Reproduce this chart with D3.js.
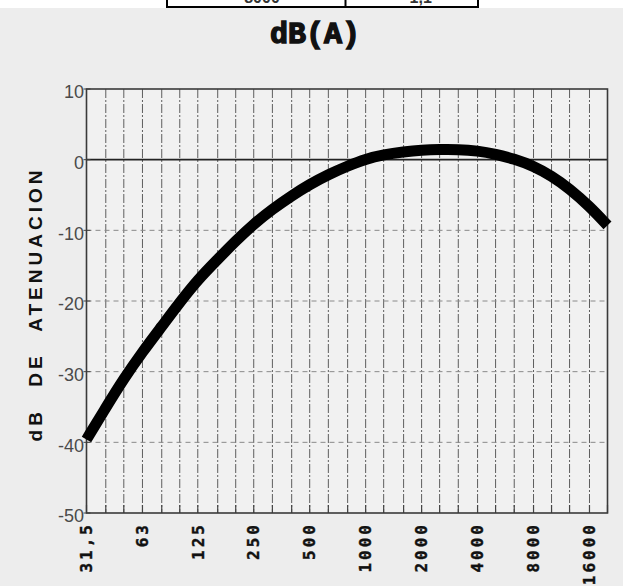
<!DOCTYPE html>
<html>
<head>
<meta charset="utf-8">
<script src="https://cdn.jsdelivr.net/npm/d3@7"></script>
<style>
  html, body { margin: 0; padding: 0; background: #ffffff; }
  svg { display: block; }
</style>
</head>
<body>
<svg id="chart" width="623" height="586"></svg>
<script>
// ---- data ----
const freqs = [31.5, 40, 50, 63, 80, 100, 125, 160, 200, 250, 315, 400, 500, 630, 800,
               1000, 1250, 1600, 2000, 2500, 3150, 4000, 5000, 6300, 8000, 10000, 12500, 16000, 20000];
const attenuation = [-39.6, -35.1, -31.0, -27.2, -23.6, -20.2, -17.0, -14.1, -11.5, -9.1, -7.0, -5.1, -3.5, -2.1, -0.9,
                     0.1, 0.7, 1.1, 1.35, 1.45, 1.45, 1.25, 0.8, 0.1, -0.9, -2.3, -4.1, -6.6, -9.3];
const octaveTicks = [31.5, 63, 125, 250, 500, 1000, 2000, 4000, 8000, 16000];
const octaveLabels = ["31,5", "63", "125", "250", "500", "1000", "2000", "4000", "8000", "16000"];
const yTicks = [10, 0, -10, -20, -30, -40, -50];
const yTickLabels = ["10", "0", "-10", "-20", "-30", "-40", "-50"];
const titleText = "dB(A)";
const yTitle = "dB DE ATENUACION";
const tableFragment = ["8000", "-1,1"];

(function () {
// ---- layout ----
const svg = d3.select("#chart");
const pL = 86.5, pR = 607.5, pT = 89, pB = 513;

const x = d3.scaleLog().domain([31.5, 20000]).range([pL, pR]);
const y = d3.scaleLinear().domain([-50, 10]).range([pB, pT]);

// background (scanned paper look)
svg.append("rect").attr("x", 0).attr("y", 0).attr("width", 623).attr("height", 586).attr("fill", "#ededed");
svg.append("rect").attr("x", 0).attr("y", 0).attr("width", 623).attr("height", 8).attr("fill", "#ffffff");

// top table fragment
const tbl = svg.append("g");
tbl.append("rect").attr("x", 167).attr("y", -4).attr("width", 311).attr("height", 11)
  .attr("fill", "#ffffff").attr("stroke", "#000").attr("stroke-width", 2);
tbl.append("line").attr("x1", 345.5).attr("x2", 345.5).attr("y1", -4).attr("y2", 7)
  .attr("stroke", "#000").attr("stroke-width", 2);
tbl.append("text").attr("x", 262).attr("y", 2.5).attr("text-anchor", "middle")
  .attr("font-family", "Liberation Sans, Arial, sans-serif").attr("font-weight", "bold")
  .attr("font-size", 16).attr("fill", "#333").text(tableFragment[0]);
tbl.append("text").attr("x", 418).attr("y", 2.5).attr("text-anchor", "middle")
  .attr("font-family", "Liberation Sans, Arial, sans-serif").attr("font-weight", "bold")
  .attr("font-size", 16).attr("fill", "#333").text(tableFragment[1]);

// title
svg.append("text").attr("x", 315).attr("y", 43).attr("text-anchor", "middle")
  .attr("font-family", "Liberation Mono, Courier New, monospace").attr("font-weight", "bold")
  .attr("font-size", 30).attr("fill", "#111").attr("stroke", "#111").attr("stroke-width", 1.4)
  .text(titleText);

// plot area fill
svg.append("rect").attr("x", pL).attr("y", pT).attr("width", pR - pL).attr("height", pB - pT)
  .attr("fill", "#f1f1f1");

// vertical 1/3-octave grid
svg.append("g").selectAll("line").data(freqs).join("line")
  .attr("x1", d => x(d)).attr("x2", d => x(d))
  .attr("y1", pT).attr("y2", pB)
  .attr("stroke", "#5e5e5e").attr("stroke-width", 1)
  .attr("stroke-dasharray", "9,2,2,2");

// horizontal grid (dashed)
svg.append("g").selectAll("line").data([-10, -20, -30, -40]).join("line")
  .attr("x1", pL).attr("x2", pR)
  .attr("y1", d => y(d)).attr("y2", d => y(d))
  .attr("stroke", "#8a8a8a").attr("stroke-width", 1)
  .attr("stroke-dasharray", "5,4");

// zero line
svg.append("line").attr("x1", pL).attr("x2", pR).attr("y1", y(0)).attr("y2", y(0))
  .attr("stroke", "#222").attr("stroke-width", 1.6);

// bottom ticks
svg.append("g").selectAll("line").data(freqs).join("line")
  .attr("x1", d => x(d)).attr("x2", d => x(d))
  .attr("y1", pB).attr("y2", pB - 8)
  .attr("stroke", "#444").attr("stroke-width", 1.2);

// left ticks
svg.append("g").selectAll("line").data(yTicks).join("line")
  .attr("x1", pL - 3).attr("x2", pL + 4)
  .attr("y1", d => y(d)).attr("y2", d => y(d))
  .attr("stroke", "#444").attr("stroke-width", 1);

// frame
svg.append("rect").attr("x", pL).attr("y", pT).attr("width", pR - pL).attr("height", pB - pT)
  .attr("fill", "none").attr("stroke", "#3a3a3a").attr("stroke-width", 1.6);

// curve
const line = d3.line().x((d, i) => x(freqs[i])).y(d => y(d)).curve(d3.curveBasis);
svg.append("path").datum(attenuation).attr("d", line)
  .attr("fill", "none").attr("stroke", "#000").attr("stroke-width", 11)
  .attr("stroke-linecap", "butt").attr("stroke-linejoin", "round");

// y tick labels
svg.append("g").selectAll("text").data(yTicks).join("text")
  .attr("x", 84).attr("y", d => y(d)).attr("dy", "0.52em")
  .attr("text-anchor", "end")
  .attr("font-family", "Liberation Sans, Arial, sans-serif")
  .attr("font-size", 18).attr("fill", "#4a4a4a")
  .text((d, i) => yTickLabels[i]);

// x tick labels (rotated)
svg.append("g").selectAll("text").data(octaveTicks).join("text")
  .attr("transform", d => `translate(${x(d)},522) rotate(-90)`)
  .attr("dy", "0.36em")
  .attr("text-anchor", "end")
  .attr("font-family", "DejaVu Sans Mono, Liberation Mono, monospace")
  .attr("font-weight", "bold")
  .attr("font-size", 16).attr("letter-spacing", 3).attr("fill", "#111")
  .attr("stroke", "#111").attr("stroke-width", 0.4)
  .text((d, i) => octaveLabels[i]);

// y axis title
svg.append("text")
  .attr("transform", "translate(35,304) rotate(-90)")
  .attr("dy", "0.36em")
  .attr("text-anchor", "middle")
  .attr("font-family", "Liberation Sans, Arial, sans-serif")
  .attr("font-weight", "bold").attr("font-size", 19).attr("fill", "#111")
  .attr("letter-spacing", 4).attr("word-spacing", 12)
  .text(yTitle);
})();
</script>
</body>
</html>
